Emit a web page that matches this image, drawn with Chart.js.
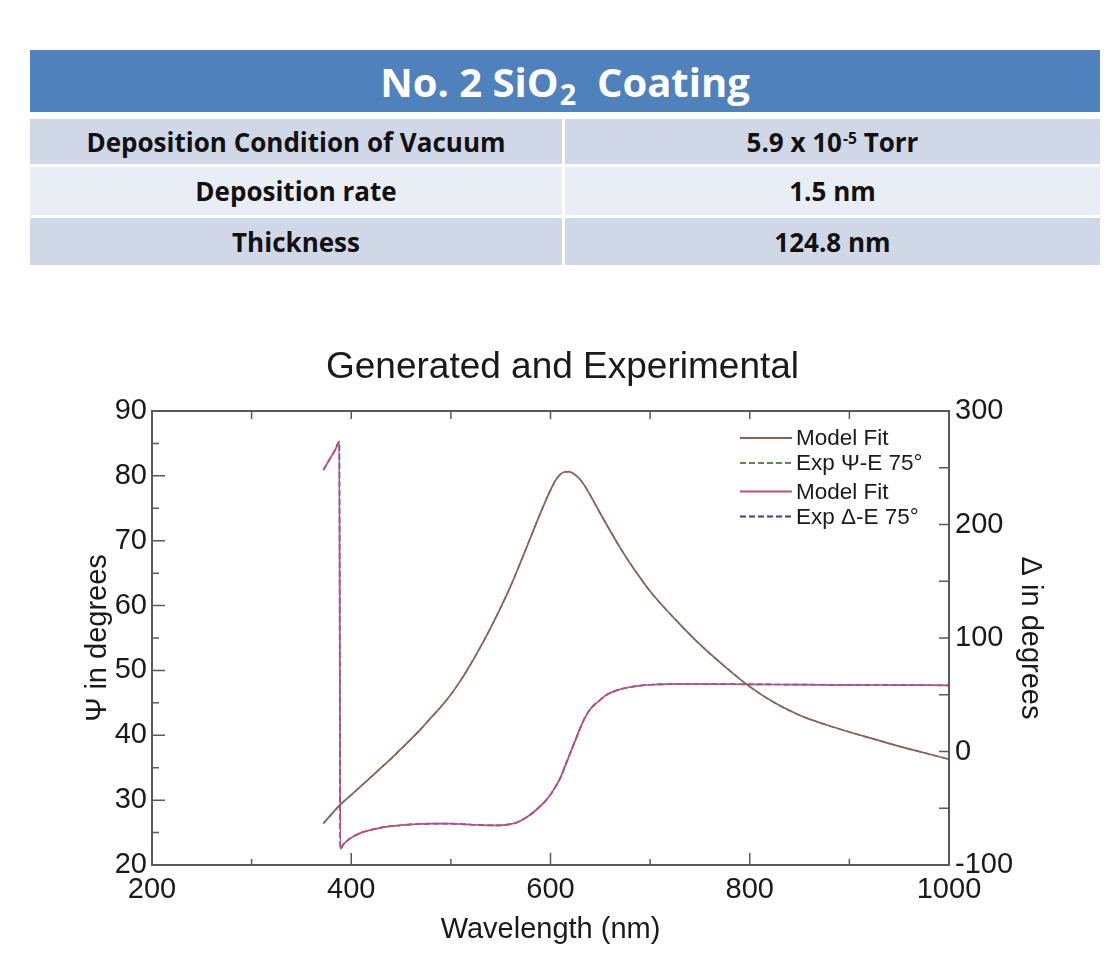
<!DOCTYPE html>
<html>
<head>
<meta charset="utf-8">
<script src="https://cdn.jsdelivr.net/npm/chart.js@4/dist/chart.umd.min.js"></script>
<style>
  html, body { margin:0; padding:0; background:#ffffff; width:1112px; height:956px; overflow:hidden; }
  .cell { position:absolute; display:flex; align-items:center; justify-content:center; font-family:"Open Sans","Noto Sans",sans-serif; font-weight:700; color:#111; font-size:26px; }
  .cell > span { white-space:nowrap; }
  #hdr { left:30px; top:50px; width:1070px; height:62px; background:#4F81BD; color:#fff; font-size:40px; }
  .dark { background:#D0D8E8; }
  .light { background:#E9EDF4; }
  sup { font-size:0.6em; vertical-align:0.5em; margin-left:1px; line-height:0; }
  sub { font-size:0.72em; vertical-align:-0.3em; margin-left:1px; line-height:0; }
  #chartWrap { position:absolute; left:0; top:330px; width:1112px; height:626px; }
</style>
</head>
<body>
<div id="hdr" class="cell"><span>No. 2 SiO<sub>2</sub>&nbsp; Coating</span></div>
<div class="cell dark"  style="left:30px;top:119px;width:532px;height:45px;"><span>Deposition Condition of Vacuum</span></div>
<div class="cell dark"  style="left:565px;top:119px;width:535px;height:45px;"><span>5.9 x 10<sup>-5</sup> Torr</span></div>
<div class="cell light" style="left:30px;top:167px;width:532px;height:48px;"><span>Deposition rate</span></div>
<div class="cell light" style="left:565px;top:167px;width:535px;height:48px;"><span>1.5 nm</span></div>
<div class="cell dark"  style="left:30px;top:218px;width:532px;height:47px;"><span>Thickness</span></div>
<div class="cell dark"  style="left:565px;top:218px;width:535px;height:47px;"><span>124.8 nm</span></div>

<div id="chartWrap"><canvas id="c" width="1112" height="626"></canvas></div>

<script>
// ---- data ----
const chartTitle = 'Generated and Experimental';
const xTitle = 'Wavelength (nm)';
const yLeftTitle = 'Ψ in degrees';
const yRightTitle = 'Δ in degrees';
const seriesLabels = ['Model Fit', 'Exp Ψ-E 75°', 'Model Fit', 'Exp Δ-E 75°'];

const psiWavelength = [372, 380, 389, 400, 410, 420, 430, 440, 450, 460, 470, 480, 490, 500, 510, 520, 530, 540, 550, 560, 570, 580, 590, 600, 605, 610, 614, 618, 622, 626, 630, 635, 640, 645, 650, 660, 670, 680, 690, 700, 725, 750, 775, 800, 825, 850, 875, 900, 925, 950, 975, 1000];
const psiModel = [26.4, 27.8, 29.3, 30.8, 32.2, 33.6, 35.0, 36.4, 37.9, 39.4, 41.0, 42.7, 44.4, 46.3, 48.5, 51.0, 53.7, 56.6, 59.7, 63.0, 66.7, 70.5, 74.3, 77.8, 79.3, 80.25, 80.6, 80.65, 80.45, 80.0, 79.4, 78.3, 77.0, 75.6, 74.2, 71.5, 68.9, 66.5, 64.3, 62.2, 57.9, 54.0, 50.6, 47.5, 45.0, 43.1, 41.7, 40.5, 39.4, 38.3, 37.3, 36.3];
const psiExp   = [26.4, 27.8, 29.3, 30.8, 32.2, 33.6, 35.0, 36.4, 37.9, 39.4, 41.0, 42.7, 44.4, 46.3, 48.5, 51.0, 53.7, 56.6, 59.7, 63.0, 66.7, 70.5, 74.3, 77.8, 79.3, 80.25, 80.6, 80.65, 80.45, 80.0, 79.4, 78.3, 77.0, 75.6, 74.2, 71.5, 68.9, 66.5, 64.3, 62.2, 57.9, 54.0, 50.6, 47.5, 45.0, 43.1, 41.7, 40.5, 39.4, 38.3, 37.3, 36.3];

const deltaWavelength = [372, 376, 380, 384, 388, 389, 392, 396, 402, 410, 420, 430, 440, 450, 460, 470, 480, 490, 500, 510, 520, 530, 540, 550, 560, 565, 570, 575, 580, 585, 590, 595, 600, 605, 610, 615, 620, 625, 630, 635, 640, 645, 650, 655, 660, 665, 670, 680, 690, 700, 720, 750, 800, 850, 900, 950, 1000];
const deltaModel = [248, 254, 260, 266, 273, -86, -82, -78.5, -75, -71.5, -69, -67, -65.8, -65, -64.2, -63.8, -63.5, -63.5, -63.6, -64, -64.4, -64.8, -65, -65, -64, -63, -61, -58.5, -55.5, -52, -48, -43.5, -38, -31, -23, -12, -1, 10, 21, 30.5, 37.5, 42, 45.5, 49.2, 51.6, 53.4, 54.8, 56.8, 58, 58.8, 59.3, 59.4, 59.2, 58.9, 58.7, 58.5, 58.3];
const deltaExp   = [248, 254, 260, 266, 273, -86, -82, -78.5, -75, -71.5, -69, -67, -65.8, -65, -64.2, -63.8, -63.5, -63.5, -63.6, -64, -64.4, -64.8, -65, -65, -64, -63, -61, -58.5, -55.5, -52, -48, -43.5, -38, -31, -23, -12, -1, 10, 21, 30.5, 37.5, 42, 45.5, 49.2, 51.6, 53.4, 54.8, 56.8, 58, 58.8, 59.3, 59.4, 59.2, 58.9, 58.7, 58.5, 58.3];

const xRange = [200, 1000];
const yLeftRange = [20, 90];
const yRightRange = [-100, 300];

// ---- helpers ----
const pts = (xs, ys) => xs.map((x, i) => ({x, y: ys[i]}));
const FONT = '"Liberation Sans", Arial, sans-serif';
const INK = '#1a1a1a';
const AXIS = '#5a5a5a';

const framePlugin = {
  id: 'frame',
  afterDraw(chart) {
    const {ctx, chartArea: a, scales} = chart;
    ctx.save();
    ctx.strokeStyle = AXIS;
    ctx.lineWidth = 2;
    ctx.strokeRect(a.left, a.top, a.right - a.left, a.bottom - a.top);
    ctx.lineWidth = 1.5;
    const x = scales.x, yl = scales.y, yr = scales.y2;
    ctx.beginPath();
    for (let v = xRange[0] + 100; v < xRange[1]; v += 100) {
      const px = x.getPixelForValue(v);
      const major = (v % 200 === 0);
      ctx.moveTo(px, a.bottom); ctx.lineTo(px, a.bottom - (major ? 12 : 6));
      ctx.moveTo(px, a.top); ctx.lineTo(px, a.top + 8);
    }
    for (let v = yLeftRange[0] + 5; v < yLeftRange[1]; v += 5) {
      const py = yl.getPixelForValue(v);
      const major = (v % 10 === 0);
      ctx.moveTo(a.left, py); ctx.lineTo(a.left + (major ? 13 : 7), py);
    }
    for (let v = yRightRange[0] + 50; v < yRightRange[1]; v += 50) {
      const py = yr.getPixelForValue(v);
      ctx.moveTo(a.right, py); ctx.lineTo(a.right - 10, py);
    }
    ctx.stroke();
    ctx.restore();
  }
};

const legendPlugin = {
  id: 'insideLegend',
  afterDraw(chart) {
    const {ctx, chartArea: a} = chart;
    const rows = [27, 52, 80.5, 105.5];
    ctx.save();
    ctx.font = '22.5px ' + FONT;
    ctx.textBaseline = 'middle';
    ctx.fillStyle = INK;
    chart.data.datasets.forEach((ds, i) => {
      const y = a.top + rows[i];
      const x0 = a.right - 209, x1 = a.right - 157;
      ctx.strokeStyle = ds.borderColor;
      ctx.lineWidth = 2;
      ctx.setLineDash(ds.borderDash || []);
      ctx.beginPath(); ctx.moveTo(x0, y); ctx.lineTo(x1, y); ctx.stroke();
      ctx.setLineDash([]);
      ctx.fillText(ds.label, a.right - 153, y + 1);
    });
    ctx.restore();
  }
};

const plainTick = v => String(v);

new Chart(document.getElementById('c'), {
  type: 'line',
  data: {
    datasets: [
      { label: seriesLabels[0], data: pts(psiWavelength, psiModel), yAxisID: 'y', borderColor: '#8e5f58', borderWidth: 1.7 },
      { label: seriesLabels[1], data: pts(psiWavelength, psiExp), yAxisID: 'y', borderColor: '#5a8a4e', borderWidth: 1.5, borderDash: [6, 3] },
      { label: seriesLabels[2], data: pts(deltaWavelength, deltaModel), yAxisID: 'y2', borderColor: '#b85080', borderWidth: 1.7 },
      { label: seriesLabels[3], data: pts(deltaWavelength, deltaExp), yAxisID: 'y2', borderColor: '#3e3e86', borderWidth: 1.7, borderDash: [6, 3] }
    ]
  },
  options: {
    responsive: false,
    animation: false,
    devicePixelRatio: 1,
    layout: { padding: { left: 13, right: 0, top: 0, bottom: 0 } },
    elements: { point: { radius: 0 }, line: { tension: 0, cubicInterpolationMode: 'monotone', fill: false } },
    plugins: {
      legend: { display: false },
      tooltip: { enabled: false },
      title: { display: true, text: chartTitle, color: INK, font: { family: FONT, size: 37, weight: 'normal', lineHeight: 1.2 }, padding: { top: 16, bottom: 20.6 } }
    },
    scales: {
      x: {
        type: 'linear', position: 'bottom', min: xRange[0], max: xRange[1],
        ticks: { stepSize: 200, color: INK, font: { family: FONT, size: 29 }, padding: 8, maxRotation: 0, callback: plainTick },
        grid: { display: false, drawTicks: false, tickLength: 0 }, border: { display: false },
        title: { display: true, text: xTitle, color: INK, font: { family: FONT, size: 29 }, padding: { top: 0, bottom: 9 } },
        afterFit: s => { s.height = 91; }
      },
      y: {
        type: 'linear', position: 'left', min: yLeftRange[0], max: yLeftRange[1],
        ticks: { stepSize: 10, color: INK, font: { family: FONT, size: 29 }, padding: 5, callback: plainTick },
        grid: { display: false, drawTicks: false, tickLength: 0 }, border: { display: false },
        title: { display: true, text: yLeftTitle, color: INK, font: { family: FONT, size: 29 }, padding: { top: 68, bottom: 0 } },
        afterFit: s => { s.width = 139; }
      },
      y2: {
        type: 'linear', position: 'right', min: yRightRange[0], max: yRightRange[1],
        ticks: { stepSize: 100, color: INK, font: { family: FONT, size: 29 }, padding: 6, callback: plainTick },
        grid: { display: false, drawTicks: false, tickLength: 0 }, border: { display: false },
        title: { display: true, text: yRightTitle, color: INK, font: { family: FONT, size: 29 }, padding: { top: 65, bottom: 0 } },
        afterFit: s => { s.width = 163; }
      }
    }
  },
  plugins: [framePlugin, legendPlugin]
});
</script>
</body>
</html>
